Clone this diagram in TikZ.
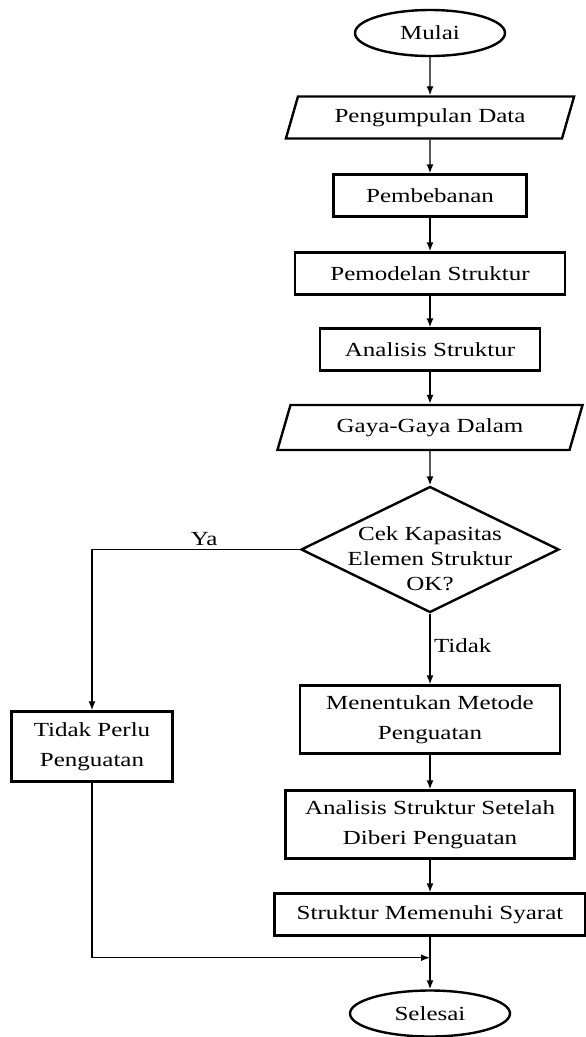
\documentclass[tikz,border=0pt]{standalone}
\usepackage{fontspec}
\setmainfont{Liberation Serif}[FakeStretch=1.25]
\usetikzlibrary{shapes.geometric,arrows.meta}

\begin{document}
\begin{tikzpicture}[
        x=1pt, y=-1pt,
        node distance=78pt,
        >={Latex[length=9pt,width=7pt]},
        terminal/.style={draw, ellipse, line width=2.4pt, minimum width=150pt, minimum height=46pt, font=\fontsize{20}{24}\selectfont},
        io/.style={draw, trapezium, trapezium left angle=70, trapezium right angle=110, trapezium stretches=true, line width=2.4pt, minimum height=42pt, font=\fontsize{20}{24}\selectfont},
        process/.style={draw, rectangle, line width=2.4pt, minimum height=42pt, align=center, font=\fontsize{20}{30}\selectfont},
        decision/.style={draw, diamond, shape aspect=2.05, line width=2.4pt, inner sep=-16pt, minimum width=258pt, minimum height=126pt, align=center, font=\fontsize{20}{25}\selectfont},
        arrow/.style={->, line width=1.4pt},
        branch/.style={font=\fontsize{20}{24}\selectfont}
    ]
        \useasboundingbox (0,0) rectangle (586,1037);

        % Start and input
        \node (mulai) [terminal] at (430,33) {Mulai};
        \node (data) [io, minimum width=289pt, below of=mulai, yshift=-6.5pt] {Pengumpulan Data};

        % Main process
        \node (beban) [process, minimum width=193pt, below of=data] {Pembebanan};
        \node (model) [process, minimum width=270pt, below of=beban] {Pemodelan Struktur};
        \node (analisis) [process, minimum width=220pt, below of=model, yshift=2pt] {Analisis Struktur};
        \node (gaya) [io, minimum width=306pt, minimum height=45pt, below of=analisis] {Gaya-Gaya Dalam};

        % Check (tall strut on the first line pushes the text down a little)
        \node (cek) [decision, below of=gaya, yshift=-44pt] {\rule{0pt}{32pt}Cek Kapasitas\\Elemen Struktur\\OK?};

        % Reinforcement branch
        \node (metode) [process, minimum width=260pt, minimum height=68pt, below of=cek, yshift=-92pt] {Menentukan Metode\\Penguatan};
        \node (setelah) [process, minimum width=289pt, minimum height=68pt, below of=metode, yshift=-27pt] {Analisis Struktur Setelah\\Diberi Penguatan};
        \node (memenuhi) [process, minimum width=311pt, below of=setelah, yshift=-12pt] {Struktur Memenuhi Syarat};

        % No reinforcement
        \node (tidakperlu) [process, minimum width=161pt, minimum height=70pt, left of=metode, xshift=-260pt, yshift=-27pt] {Tidak Perlu\\Penguatan};

        % End
        \node (selesai) [terminal, minimum width=160pt, below of=memenuhi, yshift=-21pt] {Selesai};
        \path (memenuhi.south) ++(0,21) coordinate (gabung);

        % Connectors
        \draw[arrow] (mulai) -- (data);
        \draw[arrow] (data) -- (beban);
        \draw[arrow] (beban) -- (model);
        \draw[arrow] (model) -- (analisis);
        \draw[arrow] (analisis) -- (gaya);
        \draw[arrow] (gaya) -- (cek);
        \draw[arrow] (cek.west) -| node[branch, above, pos=0.23] {Ya} (tidakperlu.north);
        \draw[arrow] (cek.south) -- node[branch, right, pos=0.45] {Tidak} (metode.north);
        \draw[arrow] (metode) -- (setelah);
        \draw[arrow] (setelah) -- (memenuhi);
        \draw[arrow] (tidakperlu.south) |- (gabung);
        \draw[arrow] (memenuhi.south) -- (selesai.north);
    \end{tikzpicture}
\end{document}
